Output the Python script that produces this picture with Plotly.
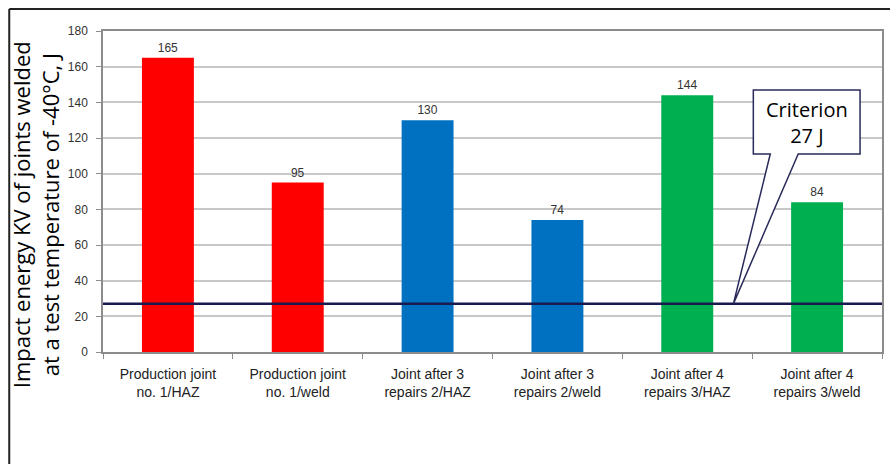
import plotly.graph_objects as go

# Impact energy results for the welded joints
categories = [
    "Production joint<br>no. 1/HAZ",
    "Production joint<br>no. 1/weld",
    "Joint after 3<br>repairs 2/HAZ",
    "Joint after 3<br>repairs 2/weld",
    "Joint after 4<br>repairs 3/HAZ",
    "Joint after 4<br>repairs 3/weld",
]
impact_energy = [165, 95, 130, 74, 144, 84]
bar_colors = ["#FF0000", "#FF0000", "#0070C0", "#0070C0", "#00B050", "#00B050"]
criterion = 27
y_ticks = [0, 20, 40, 60, 80, 100, 120, 140, 160, 180]

W, H = 890, 464
ML, MR, MT, MB = 103, 6, 31, 112
PW, PH = W - ML - MR, H - MT - MB
Y_MAX = 180


def px(xp):
    return (xp - ML) / PW


def py(yp):
    return (H - MB - yp) / PH


fig = go.Figure(
    go.Bar(
        x=categories,
        y=impact_energy,
        marker=dict(color=bar_colors, line=dict(width=0)),
        width=0.4,
        text=[str(v) for v in impact_energy],
        textposition="outside",
        textfont=dict(family="Liberation Sans, Arial", size=12, color="#333333"),
        cliponaxis=False,
    )
)

# criterion line across the whole plot
fig.add_shape(
    type="line", xref="paper", yref="y", x0=0, x1=1, y0=criterion, y1=criterion,
    line=dict(color="#1a1a4e", width=2.5), layer="above",
)

# callout box with pointer to the criterion line
bx0, bx1, by0, by1 = px(755), px(862), py(90), py(154)
pa, pb, tip_x = px(772), px(800), px(735)
tip_y = criterion / Y_MAX
path = (
    f"M {bx0},{by0} L {bx1},{by0} L {bx1},{by1} L {pb},{by1} "
    f"L {tip_x},{tip_y} L {pa},{by1} L {bx0},{by1} Z"
)
fig.add_shape(
    type="path", xref="paper", yref="paper", path=path,
    fillcolor="white", line=dict(color="#2a2a5a", width=1.5), layer="above",
)
fig.add_annotation(
    xref="paper", yref="paper", x=(bx0 + bx1) / 2, y=(by0 + by1) / 2,
    text="Criterion<br>27 J", showarrow=False,
    font=dict(family="Open Sans", size=20, color="#000000"),
    xanchor="center", yanchor="middle",
)

# axis title
fig.add_annotation(
    xref="paper", yref="paper", x=px(35), y=py(215),
    text="Impact energy KV of joints welded<br>at a test temperature of -40°C, J",
    showarrow=False, textangle=-90,
    font=dict(family="Open Sans", size=22, color="#000000"),
    xanchor="center", yanchor="middle",
)

# outer frame (top and left edges)
fig.add_shape(type="line", xref="paper", yref="paper", x0=px(9), x1=px(892),
              y0=py(9), y1=py(9), line=dict(color="#222222", width=2))
fig.add_shape(type="line", xref="paper", yref="paper", x0=px(9), x1=px(9),
              y0=py(9), y1=py(466), line=dict(color="#222222", width=2))

fig.update_layout(
    width=W, height=H,
    margin=dict(l=ML, r=MR, t=MT, b=MB),
    paper_bgcolor="white", plot_bgcolor="white",
    showlegend=False,
    bargap=0.6,
)
fig.update_xaxes(
    showline=True, linecolor="#8c8c8c", linewidth=1.5, mirror=True,
    ticks="outside", tickson="boundaries", ticklen=5, tickcolor="#8c8c8c",
    ticklabelstandoff=8,
    tickfont=dict(family="Liberation Sans, Arial", size=14, color="#222222"),
    showgrid=False,
)
fig.update_yaxes(
    range=[0, Y_MAX], tickvals=y_ticks,
    showline=True, linecolor="#8c8c8c", linewidth=1.5, mirror=True,
    ticks="outside", ticklen=5, tickcolor="#8c8c8c",
    ticklabelstandoff=6,
    tickfont=dict(family="Liberation Sans, Arial", size=12, color="#333333"),
    showgrid=True, gridcolor="#c8c8c8", gridwidth=1.5,
    zeroline=False,
)

fig.write_html("out.html")
